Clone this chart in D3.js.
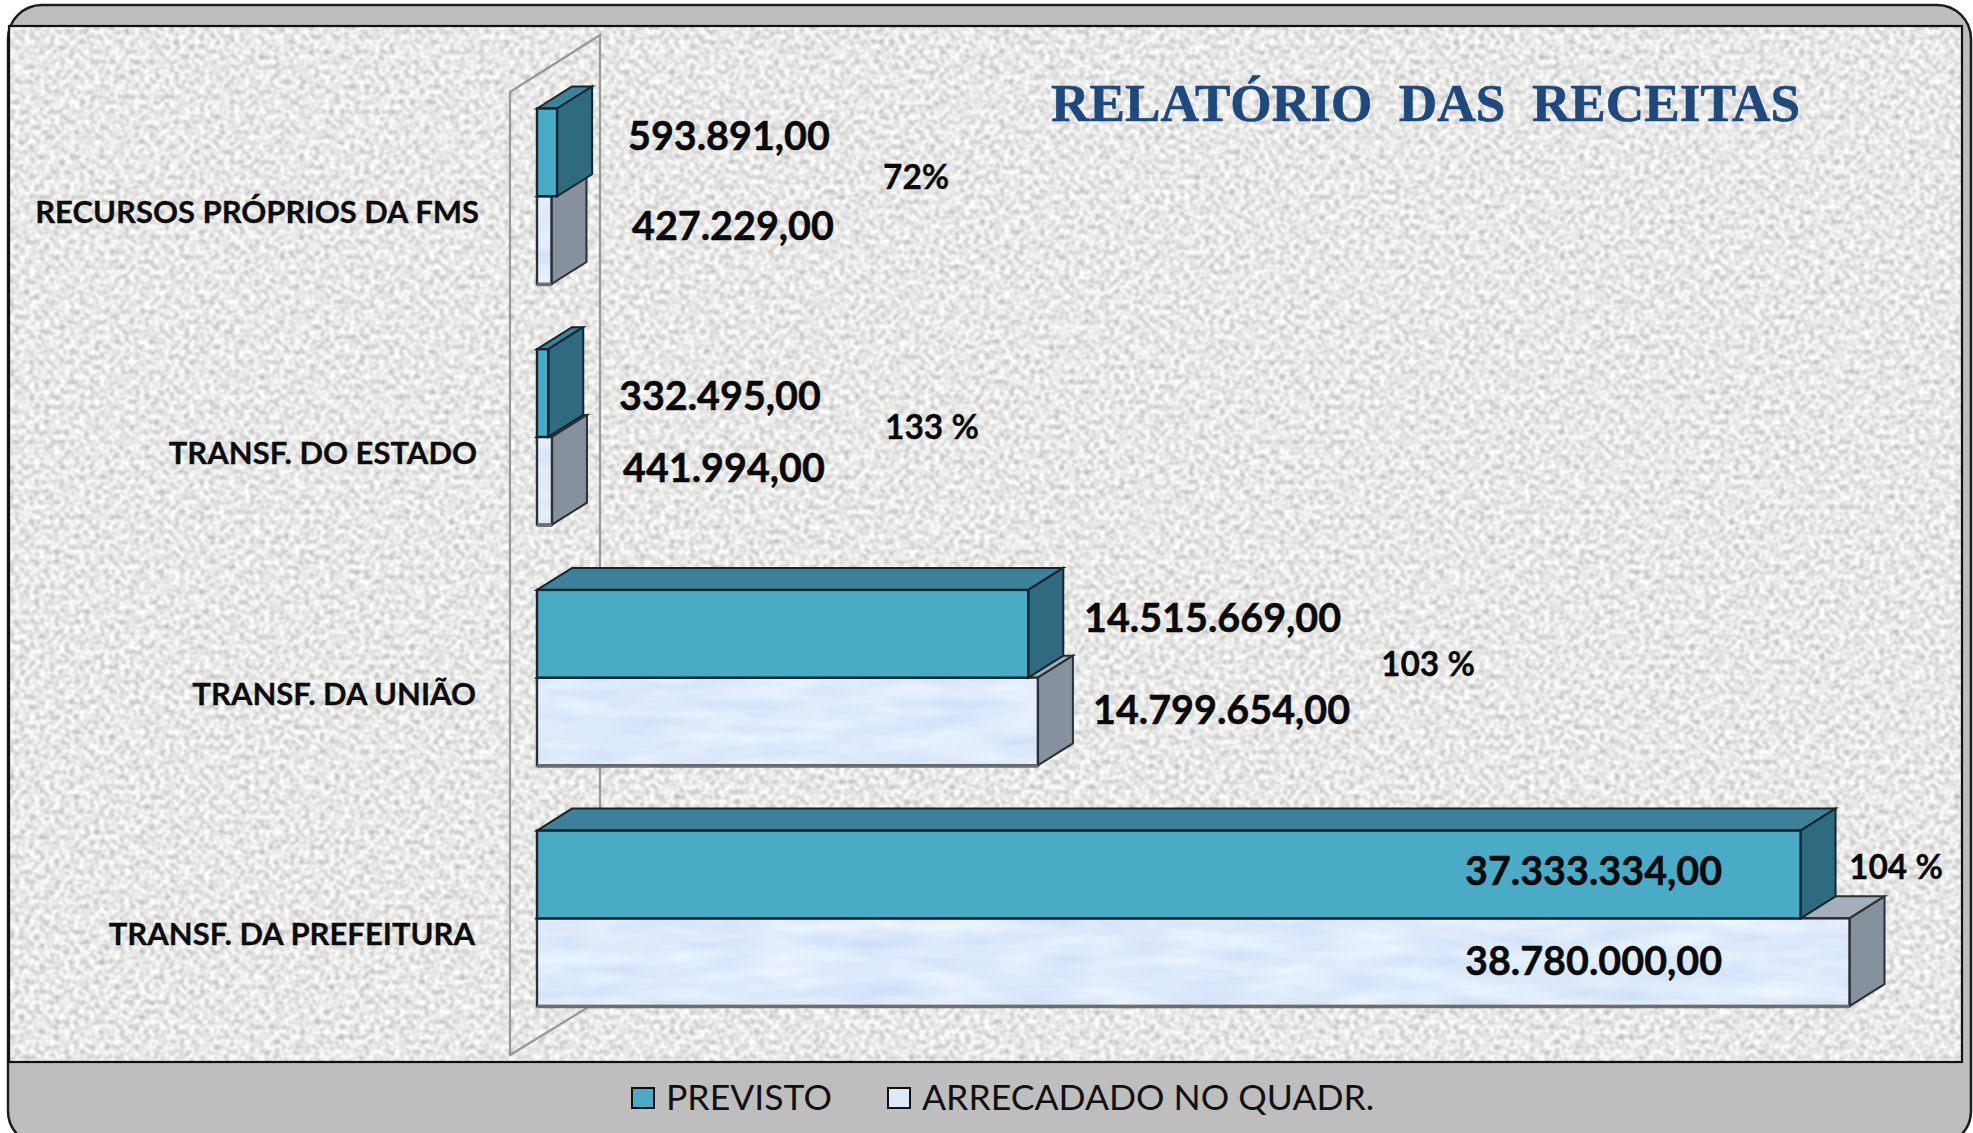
<!DOCTYPE html>
<html><head><meta charset="utf-8">
<script src="https://cdn.jsdelivr.net/npm/d3@7"></script>
<style>html,body{margin:0;padding:0;background:#fff;overflow:hidden}svg{display:block}text{font-family:Lato,"Open Sans",sans-serif}</style>
</head><body><div id="chart"></div>
<script>
const categories = ["RECURSOS PRÓPRIOS DA FMS","TRANSF. DO ESTADO","TRANSF. DA UNIÃO","TRANSF. DA PREFEITURA"];
const previsto = [593891,332495,14515669,37333334];
const arrecadado = [427229,441994,14799654,38780000];
const previstoLabels = ["593.891,00","332.495,00","14.515.669,00","37.333.334,00"];
const arrecadadoLabels = ["427.229,00","441.994,00","14.799.654,00","38.780.000,00"];
const percentLabels = ["72%","133 %","103 %","104 %"];
const seriesNames = ["PREVISTO","ARRECADADO NO QUADR."];
const titleText = "RELATÓRIO  DAS  RECEITAS";

// hand-placed label layout of the original chart
const previstoLabelPos = [[628,134],[619,394],[1084,616],[1465,869]];
const arrecadadoLabelPos = [[632,224],[623,466],[1093,708],[1465,959]];
const percentLabelPos = [[883,176],[885,426],[1381,663],[1849,866]];
const categoryLabelNudge = [5,3,2,1];

const W=1973,H=1133;
const svg=d3.select("#chart").append("svg").attr("width",W).attr("height",H);
const defs=svg.append("defs");

const granite=defs.append("filter").attr("id","granite").attr("x",0).attr("y",0).attr("width","100%").attr("height","100%").attr("color-interpolation-filters","sRGB");
granite.append("feTurbulence").attr("type","fractalNoise").attr("baseFrequency",0.2).attr("numOctaves",4).attr("seed",7).attr("result","n");
granite.append("feColorMatrix").attr("in","n").attr("type","matrix")
  .attr("values","0.6 0 0 0 0.61  0.6 0 0 0 0.61  0.6 0 0 0 0.605  0 0 0 0 1").attr("result","g");
granite.append("feGaussianBlur").attr("in","g").attr("stdDeviation",0.8);
const ice=defs.append("filter").attr("id","ice").attr("x",0).attr("y",0).attr("width","100%").attr("height","100%").attr("color-interpolation-filters","sRGB");
ice.append("feTurbulence").attr("type","fractalNoise").attr("baseFrequency","0.012 0.06").attr("numOctaves",3).attr("seed",3).attr("result","n");
ice.append("feColorMatrix").attr("in","n").attr("type","matrix")
  .attr("values","0.16 0 0 0 0.79  0.11 0 0 0 0.865  0.04 0 0 0 0.965  0 0 0 0 1");

// frame
svg.append("rect").attr("x",8).attr("y",5).attr("width",1963).attr("height",1140).attr("rx",34)
  .attr("fill","#bebebe").attr("stroke","#1c1c1c").attr("stroke-width",2.5);
svg.append("rect").attr("x",9).attr("y",26).attr("width",1953).attr("height",1036)
  .attr("fill","#e6e6e4").attr("filter","url(#granite)");
svg.append("rect").attr("x",9).attr("y",26).attr("width",1953).attr("height",1036)
  .attr("fill","none").attr("stroke","#111").attr("stroke-width",2.2);

// scales
const x=d3.scaleLinear().domain([0,38780000]).range([537,1849.5]);
const step=240.7,bandH=175.5;
const y=d3.scaleBand().domain(categories).range([108.5,108.5+step*3+bandH]).paddingInner(1-bandH/step).paddingOuter(0);
const barH=y.bandwidth()/2;
const dx=35,dy=22;

// back wall
const wall=[[510,92],[600,35],[600,1000],[510,1055]];
svg.append("path").attr("d",d3.line()(wall)+"Z").attr("fill","none")
  .attr("stroke","#979797").attr("stroke-width",2.2);

const rows=categories.map((c,i)=>({c,i,p:previsto[i],a:arrecadado[i]}));
const poly=pts=>d3.line()(pts)+"Z";
const pal={p:{front:"#4aabc7",side:"#2e6b80",top:"#3a8199",stroke:"#15252b"},
           a:{front:"#dcebfb",side:"#87919e",top:"#a5afbc",stroke:"#2a2f33"}};

function box(g,x0,x1,yt,c,useIce){
  const yb=yt+barH;
  g.append("path").attr("d",poly([[x0,yt],[x0+dx,yt-dy],[x1+dx,yt-dy],[x1,yt]])).attr("fill",c.top).attr("stroke",c.stroke).attr("stroke-width",2);
  g.append("path").attr("d",poly([[x1,yt],[x1+dx,yt-dy],[x1+dx,yb-dy],[x1,yb]])).attr("fill",c.side).attr("stroke",c.stroke).attr("stroke-width",2);
  g.append("rect").attr("x",x0).attr("y",yt).attr("width",x1-x0).attr("height",barH).attr("fill",c.front)
    .attr("filter",useIce?"url(#ice)":null);
  g.append("rect").attr("x",x0).attr("y",yt).attr("width",x1-x0).attr("height",barH).attr("fill","none").attr("stroke",c.stroke).attr("stroke-width",2.4);
  if(useIce) g.append("line").attr("x1",x0).attr("x2",x1).attr("y1",yb+0.5).attr("y2",yb+0.5).attr("stroke","#6e6e6e").attr("stroke-width",3.5);
}
const groups=svg.selectAll("g.row").data(rows).join("g").attr("class","row");
groups.each(function(d){
  const g=d3.select(this), top=y(d.c);
  box(g,x(0),x(d.a),top+barH,pal.a,true);
  box(g,x(0),x(d.p),top,pal.p,false);
});

// category labels
svg.selectAll("text.cat").data(rows).join("text").attr("class","cat")
  .attr("x",d=>474+categoryLabelNudge[d.i]).attr("y",d=>y(d.c)+y.bandwidth()/2+27)
  .attr("text-anchor","end").attr("font-weight",700).attr("font-size",31).attr("fill","#0d0d0d").attr("stroke","#0d0d0d").attr("stroke-width",0.3).text(d=>d.c);

// value labels
const valStyle=s=>s.attr("font-weight",700).attr("font-size",39.5).attr("fill","#0a0a0a").attr("stroke","#0a0a0a").attr("stroke-width",0.5).attr("dominant-baseline","central");
valStyle(svg.selectAll("text.vp").data(previstoLabels).join("text").attr("class","vp")
  .attr("x",(d,i)=>previstoLabelPos[i][0]).attr("y",(d,i)=>previstoLabelPos[i][1]).text(d=>d));
valStyle(svg.selectAll("text.va").data(arrecadadoLabels).join("text").attr("class","va")
  .attr("x",(d,i)=>arrecadadoLabelPos[i][0]).attr("y",(d,i)=>arrecadadoLabelPos[i][1]).text(d=>d));
svg.selectAll("text.pct").data(percentLabels).join("text").attr("class","pct")
  .attr("x",(d,i)=>percentLabelPos[i][0]).attr("y",(d,i)=>percentLabelPos[i][1])
  .attr("dominant-baseline","central").attr("font-weight",700).attr("font-size",33.5).attr("fill","#0a0a0a").attr("stroke","#0a0a0a").attr("stroke-width",0.3).text(d=>d);

// title
svg.append("text").attr("x",1051).attr("y",121).style("white-space","pre")
  .style("font-family","'Liberation Serif',serif").attr("font-weight",700).attr("font-size",53)
  .attr("textLength",749).attr("lengthAdjust","spacingAndGlyphs").attr("fill","#1f497d").attr("stroke","#1f497d").attr("stroke-width",0.6).text(titleText);

// legend
const legX=[632,888],legTextX=[666,922],legFill=[pal.p.front,pal.a.front];
const leg=svg.selectAll("g.leg").data(seriesNames).join("g").attr("class","leg");
leg.append("rect").attr("x",(d,i)=>legX[i]).attr("y",1088).attr("width",22).attr("height",20)
  .attr("fill",(d,i)=>legFill[i]).attr("stroke","#111").attr("stroke-width",2);
leg.append("text").attr("x",(d,i)=>legTextX[i]).attr("y",1096).attr("dominant-baseline","central")
  .attr("font-size",35.6).attr("fill","#111").text(d=>d);
</script></body></html>
